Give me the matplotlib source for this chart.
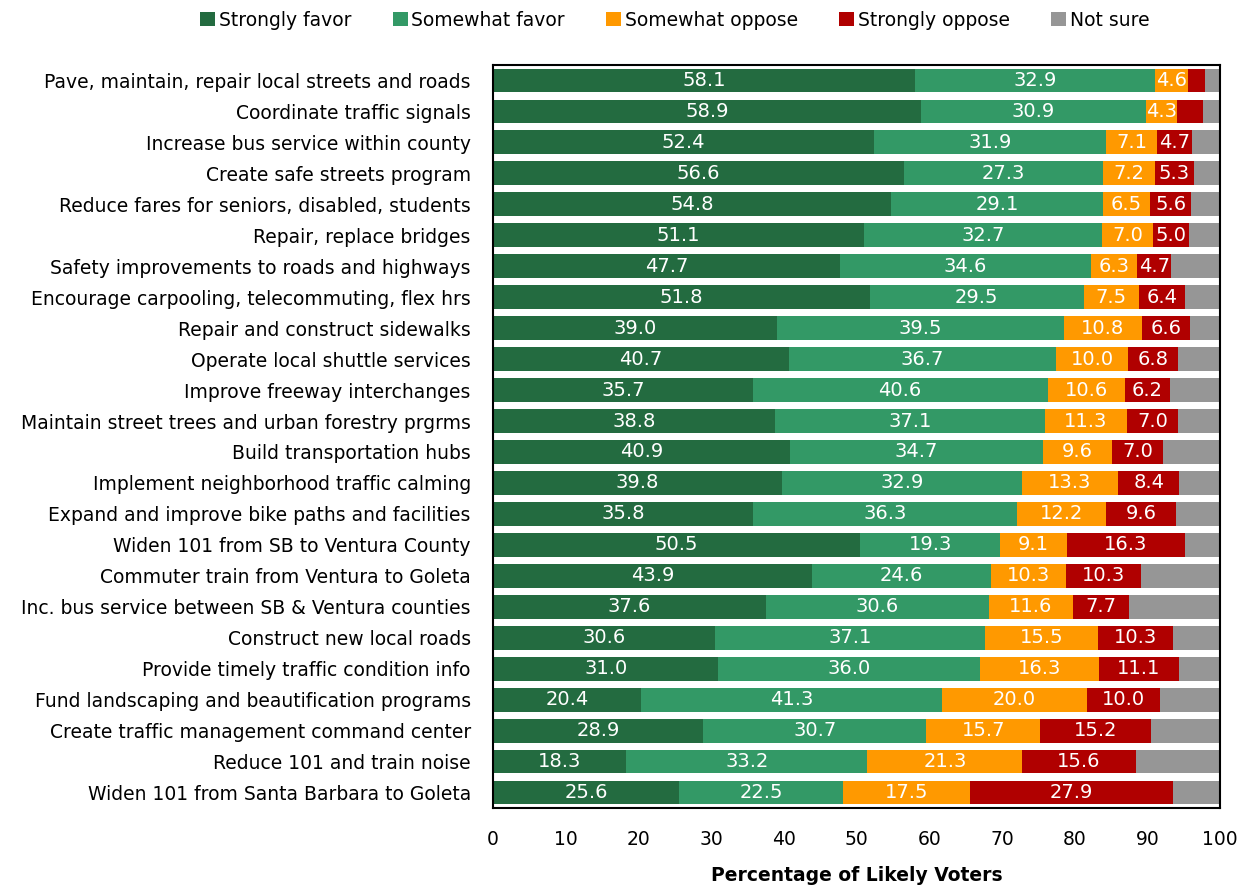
import numpy as np
import matplotlib.pyplot as plt

categorias = [
    "Pave, maintain, repair local streets and roads",
    "Coordinate traffic signals",
    "Increase bus service within county",
    "Create safe streets program",
    "Reduce fares for seniors, disabled, students",
    "Repair, replace bridges",
    "Safety improvements to roads and highways",
    "Encourage carpooling, telecommuting, flex hrs",
    "Repair and construct sidewalks",
    "Operate local shuttle services",
    "Improve freeway interchanges",
    "Maintain street trees and urban forestry prgrms",
    "Build transportation hubs",
    "Implement neighborhood traffic calming",
    "Expand and improve bike paths and facilities",
    "Widen 101 from SB to Ventura County",
    "Commuter train from Ventura to Goleta",
    "Inc. bus service between SB & Ventura counties",
    "Construct new local roads",
    "Provide timely traffic condition info",
    "Fund landscaping and beautification programs",
    "Create traffic management command center",
    "Reduce 101 and train noise",
    "Widen 101 from Santa Barbara to Goleta",
]

strongly_favor = [58.1, 58.9, 52.4, 56.6, 54.8, 51.1, 47.7, 51.8, 39.0, 40.7, 35.7, 38.8,
                  40.9, 39.8, 35.8, 50.5, 43.9, 37.6, 30.6, 31.0, 20.4, 28.9, 18.3, 25.6]
somewhat_favor = [32.9, 30.9, 31.9, 27.3, 29.1, 32.7, 34.6, 29.5, 39.5, 36.7, 40.6, 37.1,
                  34.7, 32.9, 36.3, 19.3, 24.6, 30.6, 37.1, 36.0, 41.3, 30.7, 33.2, 22.5]
somewhat_oppose = [4.6, 4.3, 7.1, 7.2, 6.5, 7.0, 6.3, 7.5, 10.8, 10.0, 10.6, 11.3,
                   9.6, 13.3, 12.2, 9.1, 10.3, 11.6, 15.5, 16.3, 20.0, 15.7, 21.3, 17.5]
strongly_oppose = [2.3, 3.6, 4.7, 5.3, 5.6, 5.0, 4.7, 6.4, 6.6, 6.8, 6.2, 7.0,
                   7.0, 8.4, 9.6, 16.3, 10.3, 7.7, 10.3, 11.1, 10.0, 15.2, 15.6, 27.9]

series = ["Strongly favor", "Somewhat favor", "Somewhat oppose", "Strongly oppose", "Not sure"]
colores = ["#236B40", "#339966", "#FF9900", "#B00000", "#969696"]

datos = np.array([strongly_favor, somewhat_favor, somewhat_oppose, strongly_oppose])
no_seguro = 100 - datos.sum(axis=0)
datos = np.vstack([datos, no_seguro])

fig = plt.figure(figsize=(12.5, 8.86), dpi=100)
ax = fig.add_axes([493/1250, 1 - 808/886, 727/1250, (808-65)/886])

y = np.arange(len(categorias))
izq = np.zeros(len(categorias))
for i, (nombre, col) in enumerate(zip(series, colores)):
    ax.barh(y, datos[i], left=izq, height=0.77, color=col, label=nombre)
    if i < 4:
        for j, v in enumerate(datos[i]):
            if v >= 4:
                ax.text(izq[j] + v / 2, y[j], f"{v:.1f}", ha="center", va="center",
                        color="white", fontsize=14)
    izq += datos[i]

ax.set_xlim(0, 100)
ax.set_ylim(len(categorias) - 0.5, -0.5)
ax.set_yticks(y)
ax.set_yticklabels(categorias, fontsize=13.5)
ax.set_xticks(np.arange(0, 101, 10))
ax.tick_params(axis="x", labelsize=13.5, length=0, pad=16)
ax.tick_params(axis="y", length=0, pad=16)
for s in ax.spines.values():
    s.set_linewidth(1.5)
    s.set_color("black")
ax.set_xlabel("Percentage of Likely Voters", fontsize=13.5, fontweight="bold", labelpad=12)

fig.legend(loc="upper center", bbox_to_anchor=(0.54, 1.007), ncol=5, frameon=False,
           fontsize=13.5, handlelength=0.8, handleheight=0.8, handletextpad=0.2,
           columnspacing=2.2)

fig.savefig("out.png", dpi=100)
